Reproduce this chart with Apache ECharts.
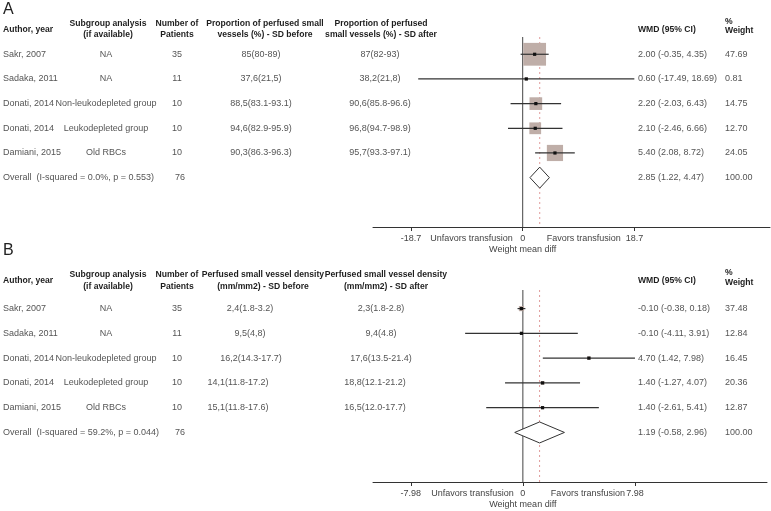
<!DOCTYPE html>
<html>
<head>
<meta charset="utf-8">
<script src="https://cdn.jsdelivr.net/npm/echarts@6/dist/echarts.min.js"></script>
<style>
  html, body { margin: 0; padding: 0; background: #fff; }
  #chart { width: 771px; height: 511px; }
</style>
</head>
<body>
<div id="chart"></div>
<script>
// study columns shared by both panels
const authors = ['Sakr, 2007', 'Sadaka, 2011', 'Donati, 2014', 'Donati, 2014', 'Damiani, 2015'];
const subgroups = ['NA', 'NA', 'Non-leukodepleted group', 'Leukodepleted group', 'Old RBCs'];
const patients = [35, 11, 10, 10, 10];
const totalPatients = 76;

// A: proportion of perfused small vessels
const beforeA = ['85(80-89)', '37,6(21,5)', '88,5(83.1-93.1)', '94,6(82.9-95.9)', '90,3(86.3-96.3)'];
const afterA = ['87(82-93)', '38,2(21,8)', '90,6(85.8-96.6)', '96,8(94.7-98.9)', '95,7(93.3-97.1)'];
const wmdA = [2.00, 0.60, 2.20, 2.10, 5.40];
const lowA = [-0.35, -17.49, -2.03, -2.46, 2.08];
const highA = [4.35, 18.69, 6.43, 6.66, 8.72];
const weightA = [47.69, 0.81, 14.75, 12.70, 24.05];
const overallA = [2.85, 1.22, 4.47];
const overallLabelA = 'Overall  (I-squared = 0.0%, p = 0.553)';
const ticksA = [-18.7, 0, 18.7];

// B: perfused small vessel density
const beforeB = ['2,4(1.8-3.2)', '9,5(4,8)', '16,2(14.3-17.7)', '14,1(11.8-17.2)', '15,1(11.8-17.6)'];
const afterB = ['2,3(1.8-2.8)', '9,4(4.8)', '17,6(13.5-21.4)', '18,8(12.1-21.2)', '16,5(12.0-17.7)'];
const wmdB = [-0.10, -0.10, 4.70, 1.40, 1.40];
const lowB = [-0.38, -4.11, 1.42, -1.27, -2.61];
const highB = [0.18, 3.91, 7.98, 4.07, 5.41];
const weightB = [37.48, 12.84, 16.45, 20.36, 12.87];
const overallB = [1.19, -0.58, 2.96];
const overallLabelB = 'Overall  (I-squared = 59.2%, p = 0.044)';
const ticksB = [-7.98, 0, 7.98];

const FONT = '"Liberation Sans", Arial, sans-serif';
const TXT = '#555';
const HEAD = '#1e1e1e';
const BOX = '#bfaea8';
const SIZE = 9;

const panels = [
  {
    letter: 'A', top: 37, height: 190, width: 397, xMin: -25.06, xMax: 41.40, yMin: -0.7, yMax: 7.0,
    before: beforeA, after: afterA, wmd: wmdA, low: lowA, high: highA, weight: weightA,
    overall: overallA, overallLabel: overallLabelA, ticks: ticksA,
    beforeX: [261, 261, 261, 261, 261], afterX: [380, 380, 380, 380, 380],
    boxScale: 3.3, unfavGap: 10, favGap: 24,
    headY: [24, 35, 30, 22, 31], letterY: 10,
    head4: ['Proportion of perfused small', 'vessels (%) - SD before'],
    head5: ['Proportion of perfused', 'small vessels (%) - SD after'], head4X: 265, head5X: 381
  },
  {
    letter: 'B', top: 290, height: 192, width: 394, xMin: -10.67, xMax: 17.38, yMin: -0.75, yMax: 7.0,
    before: beforeB, after: afterB, wmd: wmdB, low: lowB, high: highB, weight: weightB,
    overall: overallB, overallLabel: overallLabelB, ticks: ticksB,
    beforeX: [250, 250, 251, 238, 238], afterX: [381, 381, 381, 375, 375],
    boxScale: 0.85, unfavGap: 9, favGap: 28,
    headY: [275, 287, 281, 273, 283], letterY: 251,
    head4: ['Perfused small vessel density', '(mm/mm2) - SD before'],
    head5: ['Perfused small vessel density', '(mm/mm2) - SD after'], head4X: 263, head5X: 386
  }
];

function txt(text, x, y, align, opts) {
  opts = opts || {};
  return {
    type: 'text',
    style: {
      text: text, x: x, y: y,
      align: align, textAlign: align, verticalAlign: 'middle', textVerticalAlign: 'middle',
      fontSize: opts.size || SIZE, fontWeight: opts.bold ? 'bold' : 'normal',
      fontFamily: FONT, fill: opts.color || TXT
    }
  };
}

const grids = [], xAxes = [], yAxes = [], series = [], graphics = [];

panels.forEach(function (p, k) {
  grids.push({ left: 373, top: p.top, width: p.width, height: p.height });
  xAxes.push({
    gridIndex: k, type: 'value', min: p.xMin, max: p.xMax, position: 'bottom',
    axisLine: { onZero: false, lineStyle: { color: '#333', width: 1 } },
    axisTick: { customValues: p.ticks, length: 4, lineStyle: { color: '#333' } },
    axisLabel: { customValues: p.ticks, fontSize: SIZE, color: '#444', margin: 7, fontFamily: FONT },
    splitLine: { show: false }
  });
  yAxes.push({ gridIndex: k, type: 'value', inverse: true, min: p.yMin, max: p.yMax, show: false });

  // reference lines + axis annotations
  series.push({
    type: 'custom', xAxisIndex: k, yAxisIndex: k, silent: true, z: 1,
    data: [[0, 0]],
    renderItem: function (params, api) {
      const z0 = api.coord([0, p.yMin]), z1 = api.coord([0, p.yMax]);
      const o0 = api.coord([p.overall[0], p.yMin]), o1 = api.coord([p.overall[0], p.yMax]);
      const ay = z1[1];
      return {
        type: 'group', children: [
          { type: 'line', shape: { x1: z0[0], y1: z0[1], x2: z1[0], y2: z1[1] }, style: { stroke: '#444', lineWidth: 1 } },
          { type: 'line', shape: { x1: o0[0], y1: o0[1], x2: o1[0], y2: o1[1] }, style: { stroke: '#e09a9a', lineWidth: 1, lineDash: [2, 3] } },
          txt('Unfavors transfusion', z1[0] - p.unfavGap, ay + 12, 'right', { color: '#444' }),
          txt('Favors transfusion', z1[0] + p.favGap, ay + 12, 'left', { color: '#444' }),
          txt('Weight mean diff', z1[0], ay + 23, 'center', { color: '#444' })
        ]
      };
    }
  });

  // study rows: box, CI, point estimate
  series.push({
    type: 'custom', xAxisIndex: k, yAxisIndex: k, silent: true, z: 3,
    data: p.wmd.map(function (v, i) { return [v, i, p.low[i], p.high[i], p.weight[i]]; }),
    renderItem: function (params, api) {
      const row = api.value(1);
      const c = api.coord([api.value(0), row]);
      const l = api.coord([api.value(2), row]), h = api.coord([api.value(3), row]);
      const s = p.boxScale * Math.sqrt(api.value(4));
      return {
        type: 'group', children: [
          { type: 'rect', shape: { x: c[0] - s / 2, y: c[1] - s / 2, width: s, height: s }, style: { fill: BOX } },
          { type: 'line', shape: { x1: l[0], y1: l[1], x2: h[0], y2: h[1] }, style: { stroke: '#333', lineWidth: 1.2 } },
          { type: 'rect', shape: { x: c[0] - 1.6, y: c[1] - 1.6, width: 3.2, height: 3.2 }, style: { fill: '#111' } }
        ]
      };
    }
  });

  // overall diamond
  series.push({
    type: 'custom', xAxisIndex: k, yAxisIndex: k, silent: true, z: 3,
    data: [[p.overall[0], 5, p.overall[1], p.overall[2]]],
    renderItem: function (params, api) {
      const c = api.coord([api.value(0), api.value(1)]);
      const l = api.coord([api.value(2), api.value(1)]), h = api.coord([api.value(3), api.value(1)]);
      return {
        type: 'polygon',
        shape: { points: [[l[0], c[1]], [c[0], c[1] - 10.5], [h[0], c[1]], [c[0], c[1] + 10.5]] },
        style: { fill: '#fff', stroke: '#333', lineWidth: 1 }
      };
    }
  });

  // table text, one item per row
  series.push({
    type: 'custom', xAxisIndex: k, yAxisIndex: k, silent: true, z: 4,
    data: [0, 1, 2, 3, 4, 5].map(function (i) { return [0, i]; }),
    renderItem: function (params, api) {
      const i = params.dataIndex;
      const y = api.coord([0, api.value(1)])[1];
      if (i === 5) {
        return {
          type: 'group', children: [
            txt(p.overallLabel, 3, y, 'left'),
            txt(String(totalPatients), 180, y, 'center'),
            txt(p.overall[0].toFixed(2) + ' (' + p.overall[1].toFixed(2) + ', ' + p.overall[2].toFixed(2) + ')', 638, y, 'left'),
            txt('100.00', 725, y, 'left')
          ]
        };
      }
      return {
        type: 'group', children: [
          txt(authors[i], 3, y, 'left'),
          txt(subgroups[i], 106, y, 'center'),
          txt(String(patients[i]), 177, y, 'center'),
          txt(p.before[i], p.beforeX[i], y, 'center'),
          txt(p.after[i], p.afterX[i], y, 'center'),
          txt(p.wmd[i].toFixed(2) + ' (' + p.low[i].toFixed(2) + ', ' + p.high[i].toFixed(2) + ')', 638, y, 'left'),
          txt(p.weight[i].toFixed(2), 725, y, 'left')
        ]
      };
    }
  });

  // headers
  const hy = p.headY;
  const hb = { bold: true, color: HEAD, size: 8.6 };
  graphics.push(
    txt(p.letter, 3, p.letterY, 'left', { size: 16, color: '#222' }),
    txt('Author, year', 3, hy[2], 'left', hb),
    txt('Subgroup analysis', 108, hy[0], 'center', hb),
    txt('(if available)', 108, hy[1], 'center', hb),
    txt('Number of', 177, hy[0], 'center', hb),
    txt('Patients', 177, hy[1], 'center', hb),
    txt(p.head4[0], p.head4X, hy[0], 'center', hb),
    txt(p.head4[1], p.head4X, hy[1], 'center', hb),
    txt(p.head5[0], p.head5X, hy[0], 'center', hb),
    txt(p.head5[1], p.head5X, hy[1], 'center', hb),
    txt('WMD (95% CI)', 638, hy[2], 'left', hb),
    txt('%', 725, hy[3], 'left', hb),
    txt('Weight', 725, hy[4], 'left', hb)
  );
});

const chart = echarts.init(document.getElementById('chart'), null, { renderer: 'canvas' });
chart.setOption({
  animation: false,
  backgroundColor: '#fff',
  grid: grids,
  xAxis: xAxes,
  yAxis: yAxes,
  series: series,
  graphic: graphics
});
</script>
</body>
</html>
